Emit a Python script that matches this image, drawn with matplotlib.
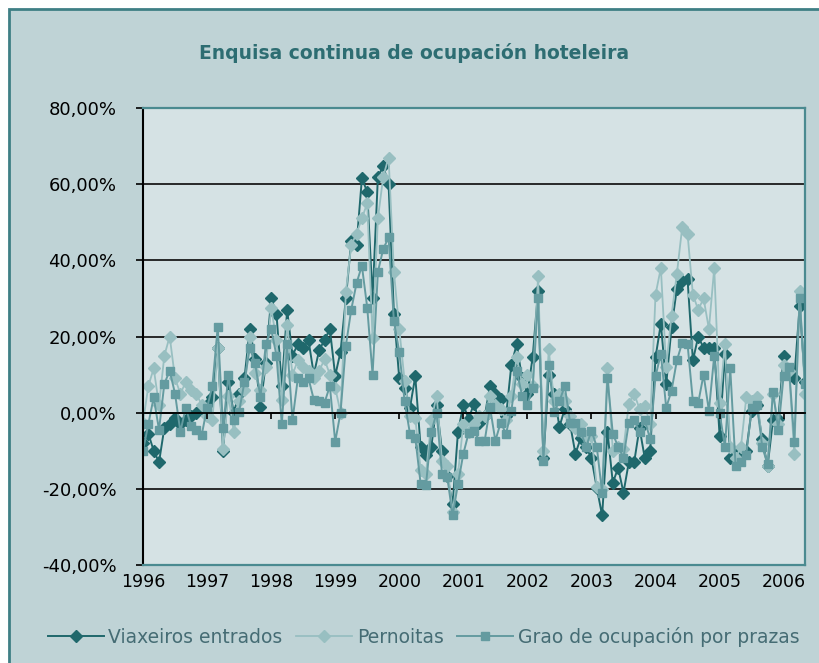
import numpy as np
import matplotlib
matplotlib.use('Agg')
import matplotlib.pyplot as plt
from matplotlib.patches import Rectangle
from matplotlib.ticker import FuncFormatter

# monthly year-on-year change (%), Jan 1996 .. May 2006
years = [str(y) for y in range(1996, 2007)]

viaxeiros = [
    -8, -5.5, -10, -13, -4, -3, -1.3, -3, -2, -1, 0, 1.3,
    2, 4, 17, -10, 8, 0, 5, 9, 22, 14, 1.6, 13,
    30, 26, 7, 27, 15, 18, 17, 19, 10, 16.5, 19, 22,
    9.7, 16, 30, 45, 44, 61.5, 58, 30, 62, 64.7, 60, 26,
    9, 6.6, 1.3, 9.5, -9, -11, -9, 2, -10, -16.6, -24, -5,
    2, -1.6, 2.4, -2.6, -1, 7, 5, 3.5, -1, 12.6, 18, 9,
    5, 14.7, 32, -12, 10, 5, -3.7, 1, -3, -10.8, -6.6, -9,
    -12, -19.7, -27, -5, -18.4, -14.5, -21, -13, -13, -4, -12, -10,
    14.5, 23.4, 7.4, 22.4, 32.6, 34.7, 35, 13.7, 20, 17, 17, 17,
    -6, 15.5, -12, -11, -9.5, -10, 0.5, 2, -7, -14, -2, -1.6,
    15, 11, 9, 28, 8,
]

pernoitas = [
    -2.6, 7, 11.6, 2, 15, 20, 9, 5, 8, 6, 5, 2,
    -1, -2, 17, -9.5, 4.5, -5, 3, 6, 20, 10.5, 6, 12,
    27.6, 19, 3.4, 23, 10, 13.7, 12, 11, 9, 11, 14, 10,
    6.6, 0, 31.6, 44, 47, 51, 55, 19.5, 51, 62, 67, 37,
    22, 8.4, -1, -1.3, -15, -16, -2, 4.5, -12.6, -14, -26, -16,
    -3, -5, -3, -1, -1, 4.5, 2, 1, -2, 4.5, 14.5, 7.6,
    10, 7, 35.8, -10, 16.6, 3, 5, 3, -1, -4, -3, -6,
    -6, -19.5, -20, 11.6, -10, -9, -9.5, 2.4, 5, 1, 1.8, -3,
    31, 38, 12, 25.5, 36.5, 48.7, 47, 31, 27, 30, 22, 38,
    2.6, 18, -9, -12, -9, 4, 3, 4, -8, -14, 5, -3,
    12.4, 11, -10.8, 32, 5,
]

grao = [
    -10, -3, 4, -4.5, 7.6, 11, 5, -5, 1.3, -3.4, -4.5, -5.8,
    1.3, 7, 22.6, -4, 10, -2, 0.3, 8, 17, 13, 4, 18,
    22, 15, -3, 18, -2, 9, 8, 9, 3.4, 3, 2.6, 7,
    -7.6, 0, 17.6, 27, 34, 38.6, 27.6, 10, 37, 43, 46, 24,
    16, 3, -5.5, -6.6, -18.6, -19, -5, 0, -16, -17, -27, -18.7,
    -10.8, -5.3, -4.7, -7.4, -7.4, 1.4, -7.4, -2.6, -5.5, 0.5, 11, 4.5,
    2, 6.6, 30, -12.6, 12.4, 0.3, 3, 7, -2.6, -2.6, -5, -9,
    -4.7, -9, -21, 9, -5.5, -9, -11.8, -2.6, -2, -5, -2, -7,
    9.5, 15.5, 1.3, 5.8, 13.7, 18.4, 18, 3, 2.6, 10, 0.5, 15,
    0, -9, 11.6, -14, -13, -11, 1.3, 2, -9, -13.6, 5.5, -4.5,
    9.7, 12, -7.6, 30, 7.4,
]

months = np.arange(len(viaxeiros))
year_pos = np.arange(0, len(viaxeiros), 12)

plt.rcParams['font.family'] = ['DejaVu Sans']

fig = plt.figure(figsize=(8.19, 6.63), dpi=100, facecolor='white')
fig.patches.append(Rectangle((9 / 819, -0.01), 1.0, 1 - 9 / 663 + 0.01, transform=fig.transFigure,
                             facecolor='#bfd3d6', edgecolor='#3f7f85', linewidth=2, zorder=-10))

ax = fig.add_axes([143 / 819, 1 - 565 / 663, 662 / 819, 457 / 663])
ax.set_facecolor('#d5e2e4')

ax.plot(months, viaxeiros, color='#1f686c', lw=1.4, marker='D', ms=5.8, mec='#1f686c', label='Viaxeiros entrados')
ax.plot(months, pernoitas, color='#98bfc1', lw=1.3, marker='D', ms=5.8, mec='#98bfc1', label='Pernoitas')
ax.plot(months, grao, color='#649ba0', lw=1.4, marker='s', ms=5.8, mec='#649ba0', label='Grao de ocupación por prazas')

ax.set_xlim(0, 124)
ax.set_ylim(-40, 80)
ax.set_yticks(np.arange(-40, 81, 20))
ax.yaxis.set_major_formatter(FuncFormatter(lambda v, p: f'{v:.2f}%'.replace('.', ',')))
ax.grid(axis='y', color='#1a1a1a', lw=1.3)
ax.set_axisbelow(True)
ax.set_xticks(year_pos)
ax.set_xticklabels(years)
ax.tick_params(axis='x', length=0, pad=6, labelsize=12.5)
ax.tick_params(axis='y', length=5, width=1.2, color='black', labelsize=13, pad=14)
for s in ['top', 'right', 'bottom']:
    ax.spines[s].set_color('#4a8a90')
    ax.spines[s].set_linewidth(1.6)
ax.spines['left'].set_color('black')
ax.spines['left'].set_linewidth(1.5)

# category axis crossing at 0 with small ticks
ax0 = ax.twiny()
ax0.set_xlim(ax.get_xlim())
ax0.xaxis.set_ticks_position('bottom')
ax0.spines['bottom'].set_position(('data', 0))
for s in ['top', 'right', 'left']:
    ax0.spines[s].set_visible(False)
ax0.spines['bottom'].set_color('black')
ax0.spines['bottom'].set_linewidth(1.3)
ax0.set_xticks(year_pos)
ax0.set_xticklabels([])
ax0.tick_params(axis='x', length=4, width=1.2, direction='out', color='black')

fig.text(0.505, 1 - 53 / 663, 'Enquisa continua de ocupación hoteleira', ha='center', va='center',
         fontsize=13.5, fontweight='bold', color='#2d6d72')

fig.legend(loc='center', bbox_to_anchor=(0.517, 1 - 637 / 663), ncol=3, frameon=False,
           fontsize=13.5, handlelength=3.0, handletextpad=0.25, columnspacing=0.7,
           labelcolor='#456c74')

fig.savefig('out.png', dpi=100, facecolor=fig.get_facecolor())
